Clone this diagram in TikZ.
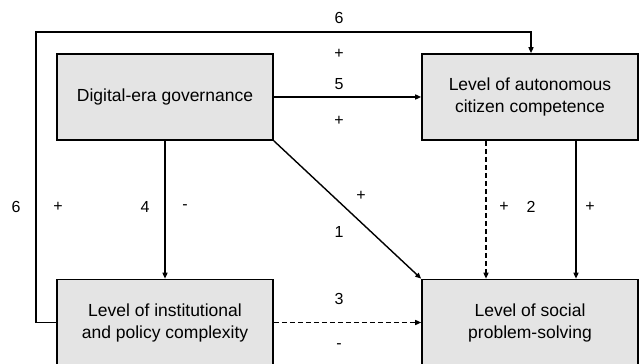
\documentclass[tikz,border=0pt]{standalone}
\usepackage{fontspec}
\setmainfont{Liberation Sans}
\definecolor{boxgray}{RGB}{228,228,228}
\usetikzlibrary{calc, positioning, arrows.meta}

\begin{document}
\begin{tikzpicture}[
    x=1pt, y=1pt,
    factor/.style={fill=boxgray, draw=black, line width=1.6pt,
      minimum width=216pt, minimum height=86pt, inner sep=0pt,
      align=center, font=\fontsize{17.5}{22}\selectfont},
    link/.style={line width=1.4pt, -{Triangle[length=6pt,width=5pt]}},
    broken/.style={dash pattern=on 5pt off 3pt},
    sign/.style={inner sep=0pt, font=\fontsize{16}{19}\selectfont},
  ]
    \useasboundingbox (0,0) rectangle (640,364);

    % the four factors
    \node[factor] (deg)  at (165,267)  {Digital-era governance};
    \node[factor] (lac)  at (530,267)  {Level of autonomous\\citizen competence};
    \node[factor] (lipc) at (165,41.5) {Level of institutional\\and policy complexity};
    \node[factor] (lsps) at (530,41.5) {Level of social\\problem-solving};

    % effects between them
    \coordinate (loop) at (36,332);
    \draw[link] (lipc.west) -| (loop) -| ([xshift=1pt]lac.north);
    \draw[link] (deg.east) -- (lac.west);
    \draw[link] (deg.south) -- (lipc.north);
    \draw[link] (deg.south east) -- (lsps.north west);
    \draw[link, broken] ([xshift=-44pt]lac.south) -- ([xshift=-44pt]lsps.north);
    \draw[link] ([xshift=46pt]lac.south) -- ([xshift=46pt]lsps.north);
    \draw[link, broken] (lipc.east) -- (lsps.west);

    % numbers and signs
    \node[sign] (n6t) at (339,346) {6};
    \node[sign] (s6t) at (339,310) {+};
    \node[sign] (n5)  at (339,280) {5};
    \node[sign] (s5)  at (339,243) {+};
    \node[sign] (n6l) at (16,157)  {6};
    \node[sign] (s6l) at (58,157)  {+};
    \node[sign] (n4)  at (145,157) {4};
    \node[sign] (s4)  at (185,157) {-};
    \node[sign] (s1)  at (361,168) {+};
    \node[sign] (n1)  at (339,132) {1};
    \node[sign] (s2a) at (504,157) {+};
    \node[sign] (n2)  at (531,157) {2};
    \node[sign] (s2b) at (590,157) {+};
    \node[sign] (n3)  at (339,65)  {3};
    \node[sign] (s3)  at (339,18)  {-};
  \end{tikzpicture}
\end{document}
